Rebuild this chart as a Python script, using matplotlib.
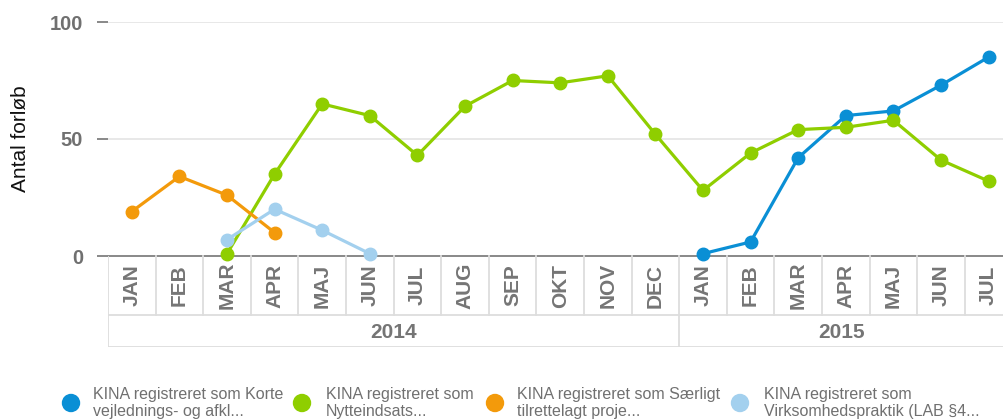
import matplotlib
matplotlib.use('Agg')
import matplotlib.pyplot as plt
import numpy as np

plt.rcParams['font.family'] = ['Liberation Sans', 'DejaVu Sans']

months = ['JAN', 'FEB', 'MAR', 'APR', 'MAJ', 'JUN', 'JUL', 'AUG', 'SEP', 'OKT', 'NOV', 'DEC',
          'JAN', 'FEB', 'MAR', 'APR', 'MAJ', 'JUN', 'JUL']
years = ['2014', '2015']
year_len = [12, 7]

# values per month index (None = no point)
korte = [None] * 12 + [1, 6, 42, 60, 62, 73, 85]
nytte = [None, None, 1, 35, 65, 60, 43, 64, 75, 74, 77, 52, 28, 44, 54, 55, 58, 41, 32]
saerligt = [19, 34, 26, 10] + [None] * 15
virk = [None, None, 7, 20, 11, 1] + [None] * 13

series = [
    ('KINA registreret som Korte\nvejlednings- og afkl...', korte, '#0a8fd5'),
    ('KINA registreret som\nNytteindsats...', nytte, '#8fce00'),
    ('KINA registreret som Særligt\ntilrettelagt proje...', saerligt, '#f39a0b'),
    ('KINA registreret som\nVirksomhedspraktik (LAB §4...', virk, '#a3d0ee'),
]

W, H = 1004, 420
fig = plt.figure(figsize=(W / 100, H / 100), dpi=100)

left, right = 108, 1004
top, base = 22, 256
ax = fig.add_axes([left / W, 1 - base / H, (right - left) / W, (base - top) / H])
xmax = -0.5 + (right - left) / 47.6
ax.set_xlim(-0.5, xmax)
ax.set_ylim(0, 100)

for lab, vals, col in series:
    x = np.array([i for i, v in enumerate(vals) if v is not None])
    y = np.array([v for v in vals if v is not None])
    ax.plot(x, y, color=col, lw=2.3, marker='o', ms=9, mec=col, clip_on=False, zorder=3)

for v in [50, 100]:
    ax.axhline(v, color='#e4e4e4', lw=1.2, zorder=1)
for s in ['top', 'right', 'left']:
    ax.spines[s].set_visible(False)
ax.spines['bottom'].set_color('#888888')
ax.spines['bottom'].set_linewidth(1.4)
ax.set_xticks([])
ax.set_yticks([0, 50, 100])
ax.set_yticklabels(['0', '50', '100'], fontsize=14.5, fontweight='bold', color='#707070')
ax.tick_params(axis='y', length=8, width=1.4, color='#888888', pad=10)
ax.set_ylabel('Antal forløb', fontsize=15, color='#111111', labelpad=14)

# category table under the axis
cat_bottom = 347
cax = fig.add_axes([left / W, 1 - cat_bottom / H, (right - left) / W, (cat_bottom - base) / H])
cax.set_xlim(-0.5, xmax)
cax.set_ylim(cat_bottom - base, 0)
cax.axis('off')
grid_c = '#dddddd'
mid = 315 - base
for i in range(len(months)):
    cax.plot([i + 0.5, i + 0.5], [0, mid], color=grid_c, lw=1.3, clip_on=False)
    cax.text(i, mid / 2, months[i], rotation=90, ha='center', va='center',
             fontsize=15, fontweight='bold', color='#757575')
cax.plot([-0.5, -0.5], [0, cat_bottom - base], color=grid_c, lw=1.3)
cax.plot([-0.5, xmax], [mid, mid], color=grid_c, lw=1.3)
cax.plot([-0.5, xmax], [cat_bottom - base - 0.5, cat_bottom - base - 0.5], color=grid_c, lw=1.3)
start = 0
for yr, n in zip(years, year_len):
    end = start + n
    if start > 0:
        cax.plot([start - 0.5, start - 0.5], [mid, cat_bottom - base], color=grid_c, lw=1.3)
    cx = (start - 0.5 + min(end - 0.5, xmax)) / 2
    cax.text(cx, (mid + cat_bottom - base) / 2 + 1, yr, ha='center', va='center',
             fontsize=15, fontweight='bold', color='#757575')
    start = end

# legend
leg_dot_x = [71, 302, 495, 740]
leg_txt_x = [93, 326, 517, 764]
for (lab, vals, col), dx, tx in zip(series, leg_dot_x, leg_txt_x):
    fig.patches.append(matplotlib.patches.Ellipse((dx / W, 1 - 403 / H), 17 / W, 17 / H,
                                                  transform=fig.transFigure, color=col))
    fig.text(tx / W, 1 - 403 / H, lab, ha='left', va='center', fontsize=11.5,
             color='#707070', linespacing=1.18)

fig.savefig('out.png', dpi=100)
